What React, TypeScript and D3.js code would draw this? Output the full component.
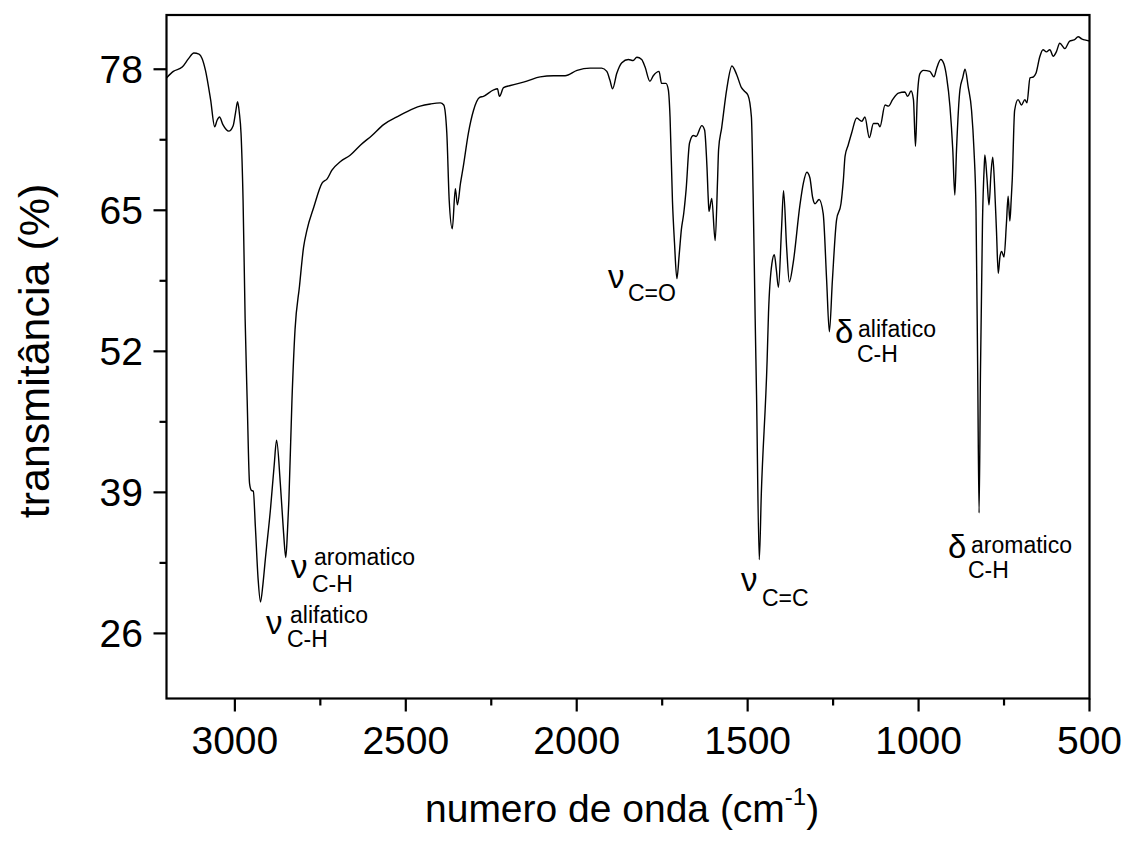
import React from "react";
import * as d3 from "d3";

const wavenumbers: number[] = [
  3200, 3180, 3154, 3135, 3120, 3105, 3096, 3086, 3071, 3059, 3052, 3045, 3035, 3018, 3005, 2998, 2992, 2987, 2982, 2976,
  2970, 2964, 2957, 2952, 2946, 2940, 2932, 2925, 2918, 2911, 2896, 2885, 2878, 2867, 2858, 2851, 2846, 2842, 2833, 2824,
  2811, 2799, 2789, 2769, 2745, 2730, 2716, 2691, 2662, 2633, 2599, 2565, 2526, 2496, 2458, 2428, 2399, 2389, 2380, 2373,
  2364, 2355, 2349, 2340, 2332, 2317, 2302, 2284, 2273, 2243, 2232, 2226, 2214, 2194, 2146, 2107, 2068, 2034, 1999, 1961,
  1927, 1912, 1903, 1895, 1883, 1868, 1849, 1835, 1824, 1810, 1800, 1786, 1776, 1759, 1752, 1739, 1732, 1727, 1720, 1714,
  1707, 1700, 1694, 1687, 1680, 1670, 1659, 1651, 1634, 1626, 1619, 1615, 1613, 1605, 1595, 1588, 1585, 1576, 1561, 1546,
  1532, 1518, 1510, 1499, 1489, 1484, 1478, 1474, 1466, 1460, 1443, 1439, 1429, 1422, 1416, 1410, 1401, 1395, 1386, 1378,
  1367, 1347, 1337, 1327, 1318, 1310, 1303, 1291, 1279, 1269, 1261, 1252, 1240, 1227, 1220, 1215, 1206, 1196, 1181, 1166,
  1157, 1144, 1132, 1119, 1113, 1098, 1088, 1076, 1059, 1040, 1032, 1022, 1015, 1009, 1004, 996, 986, 967, 955, 947,
  935, 926, 918, 908, 900, 894, 889, 879, 871, 864, 855, 845, 838, 832, 827, 823, 819, 813, 808, 806,
  800, 794, 788, 783, 778, 772, 767, 762, 757, 750, 743, 738, 733, 729, 726, 719, 709, 699, 689, 683,
  674, 664, 657, 645, 636, 626, 616, 606, 597, 587, 572, 558, 545, 533, 523, 514, 500,
];

const transmittance: number[] = [
  77.2, 77.8, 78.2, 79.0, 79.5, 79.4, 79.0, 77.9, 75.2, 72.7, 73.3, 73.6, 72.9, 72.3, 72.8, 74.0, 75.0, 74.0, 72.1, 65.9,
  55.0, 47.5, 39.8, 39.2, 39.1, 35.8, 31.0, 28.9, 30.5, 32.8, 37.4, 41.5, 43.8, 39.8, 35.5, 33.0, 35.5, 38.3, 47.5, 54.0,
  58.0, 61.6, 63.2, 65.3, 67.5, 67.9, 68.7, 69.5, 70.1, 71.0, 71.9, 72.9, 73.6, 74.1, 74.6, 74.8, 74.9, 74.7, 72.1, 65.9,
  63.3, 67.0, 65.5, 67.5, 69.0, 72.1, 74.2, 75.4, 75.5, 76.1, 76.2, 75.5, 76.3, 76.5, 76.9, 77.3, 77.4, 77.4, 77.9, 78.1,
  78.1, 77.8, 77.0, 76.2, 77.6, 78.6, 78.9, 78.8, 79.1, 78.9, 78.2, 76.9, 77.4, 77.8, 76.7, 76.7, 76.1, 73.6, 65.9, 62.0,
  58.7, 61.0, 63.2, 64.7, 66.9, 71.2, 71.9, 71.8, 72.8, 72.4, 69.0, 65.9, 64.9, 66.1, 62.2, 67.8, 70.6, 72.6, 76.2, 78.3,
  77.5, 76.3, 76.0, 75.6, 73.6, 66.5, 55.0, 48.0, 32.8, 38.9, 51.2, 55.5, 60.1, 60.9, 59.5, 57.9, 63.2, 66.8, 61.6, 58.4,
  60.1, 65.5, 67.5, 68.5, 68.0, 66.2, 65.6, 66.0, 64.7, 58.6, 53.8, 58.6, 64.1, 65.6, 67.8, 70.0, 71.0, 72.1, 73.5, 73.2,
  73.6, 71.7, 73.0, 73.0, 72.7, 74.7, 74.6, 75.2, 75.8, 75.9, 75.5, 76.0, 75.2, 70.9, 75.2, 77.6, 77.9, 77.8, 77.3, 78.1,
  78.9, 78.5, 77.3, 74.5, 70.6, 66.4, 70.6, 76.1, 77.2, 78.0, 76.4, 74.2, 70.6, 65.0, 50.0, 37.1, 50.0, 64.0, 69.0, 70.1,
  68.0, 65.5, 68.5, 69.9, 67.5, 63.0, 59.2, 60.7, 61.2, 60.7, 63.8, 66.3, 64.0, 66.0, 67.8, 74.2, 75.2, 74.7, 75.2, 74.9,
  77.2, 77.3, 77.6, 79.2, 79.8, 79.6, 79.8, 79.2, 79.6, 80.4, 79.9, 80.6, 80.7, 81.0, 80.8, 80.7, 80.6,
];

const xMajorTicks: number[] = [3000, 2500, 2000, 1500, 1000, 500];
const xMinorTicks: number[] = [2750, 2250, 1750, 1250, 750];
const yMajorTicks: number[] = [26, 39, 52, 65, 78];
const yMinorTicks: number[] = [32.5, 45.5, 58.5, 71.5];

const annotationSymbols: string[] = ["ν", "ν", "ν", "ν", "δ", "δ"];
const annotationSups: string[] = ["aromatico", "alifatico", "", "", "alifatico", "aromatico"];
const annotationSubs: string[] = ["C-H", "C-H", "C=O", "C=C", "C-H", "C-H"];

const FONT = "'Liberation Sans', Arial, sans-serif";

export default function App() {
  const left = 166.5, right = 1089.5, top = 15, bottom = 698.5;
  const x = d3.scaleLinear().domain([3200, 500]).range([left, right]);
  const y = d3.scaleLinear().domain([20, 83]).range([bottom, top]);

  const pts: [number, number][] = wavenumbers.map((w, i) => [w, transmittance[i]]);
  const line = d3
    .line<[number, number]>()
    .x((d) => x(d[0]))
    .y((d) => y(d[1]))
    .curve(d3.curveMonotoneX);

  // annotation layout (pixel anchors)
  const annLayout = [
    { gx: 291, gy: 578, sx: 314, sy: 565, bx: 312, by: 592 },
    { gx: 266, gy: 634, sx: 290, sy: 623, bx: 287, by: 647 },
    { gx: 608, gy: 288, sx: 0, sy: 0, bx: 628, by: 301 },
    { gx: 741, gy: 591, sx: 0, sy: 0, bx: 762, by: 606 },
    { gx: 835, gy: 343, sx: 858, sy: 337, bx: 857, by: 362 },
    { gx: 948, gy: 558, sx: 971, sy: 553, bx: 968, by: 578 },
  ];

  return (
    <svg
      width={1126}
      height={841}
      style={{ position: "absolute", left: 0, top: 0, background: "#fff" }}
      fontFamily={FONT}
    >
      <rect x={0} y={0} width={1126} height={841} fill="#fff" />
      <path d={line(pts) || ""} fill="none" stroke="#000" strokeWidth={1.4} />
      <rect
        x={left}
        y={top}
        width={right - left}
        height={bottom - top}
        fill="none"
        stroke="#000"
        strokeWidth={2.2}
      />
      {xMajorTicks.map((t) => (
        <g key={"xM" + t}>
          <line x1={x(t)} x2={x(t)} y1={bottom} y2={bottom + 13} stroke="#000" strokeWidth={2.2} />
          <text x={x(t)} y={754} textAnchor="middle" fontSize={39} fill="#000">
            {t}
          </text>
        </g>
      ))}
      {xMinorTicks.map((t) => (
        <line key={"xm" + t} x1={x(t)} x2={x(t)} y1={bottom} y2={bottom + 7} stroke="#000" strokeWidth={2.2} />
      ))}
      {yMajorTicks.map((t) => (
        <g key={"yM" + t}>
          <line x1={left - 13} x2={left} y1={y(t)} y2={y(t)} stroke="#000" strokeWidth={2.2} />
          <text x={143} y={y(t)} dy="0.36em" textAnchor="end" fontSize={39} fill="#000">
            {t}
          </text>
        </g>
      ))}
      {yMinorTicks.map((t) => (
        <line key={"ym" + t} x1={left - 7} x2={left} y1={y(t)} y2={y(t)} stroke="#000" strokeWidth={2.2} />
      ))}
      <text
        transform={`translate(49, 351) rotate(-90)`}
        textAnchor="middle"
        fontSize={43}
        fill="#000"
      >
        transmitância (%)
      </text>
      <text x={425} y={822} fontSize={39} fill="#000">
        numero de onda (cm
        <tspan fontSize={24} dy={-17}>-1</tspan>
        <tspan dy={17}>)</tspan>
      </text>
      {annotationSymbols.map((s, i) => {
        const a = annLayout[i];
        return (
          <g key={"ann" + i} fill="#000">
            <text x={a.gx} y={a.gy} fontSize={33}>
              {s}
            </text>
            {annotationSups[i] && (
              <text x={a.sx} y={a.sy} fontSize={23}>
                {annotationSups[i]}
              </text>
            )}
            <text x={a.bx} y={a.by} fontSize={23}>
              {annotationSubs[i]}
            </text>
          </g>
        );
      })}
    </svg>
  );
}
